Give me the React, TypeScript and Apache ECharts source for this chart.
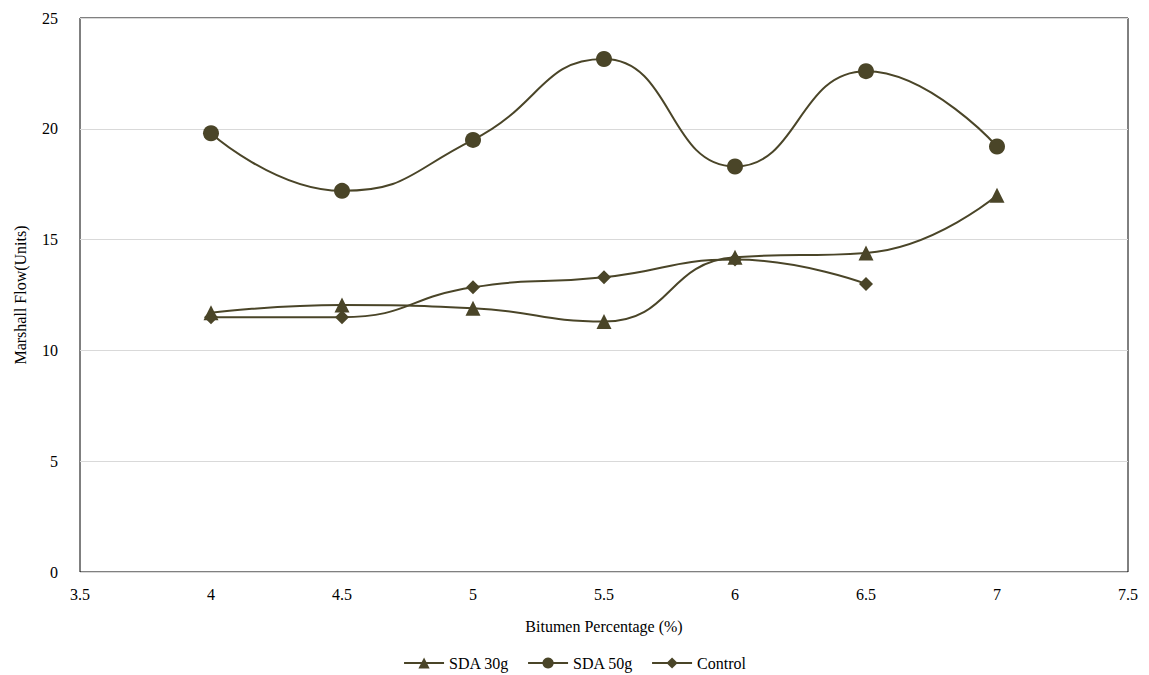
import { useEffect, useRef } from 'react';
import * as echarts from 'echarts';

const bitumen = [4, 4.5, 5, 5.5, 6, 6.5, 7];
const sda30 = [11.7, 12.05, 11.9, 11.3, 14.2, 14.4, 17.0];
const sda50 = [19.8, 17.2, 19.5, 23.15, 18.3, 22.6, 19.2];
const control = [11.5, 11.5, 12.85, 13.3, 14.1, 13.0];

const COLOR = '#4a4528';
const FONT = '"Liberation Serif", "Times New Roman", serif';

const pairs = (ys: number[]) => ys.map((y, i) => [bitumen[i], y]);

export default function App() {
  const el = useRef<HTMLDivElement>(null);

  useEffect(() => {
    if (!el.current) return;
    const chart = echarts.init(el.current, undefined, { renderer: 'svg' });
    const series = (name: string, symbol: string, size: number, ys: number[]) => ({
      name,
      type: 'line',
      smooth: 0.5,
      symbol,
      symbolSize: size,
      data: pairs(ys),
      lineStyle: { color: COLOR, width: 2 },
      itemStyle: { color: COLOR },
    });
    chart.setOption({
      animation: false,
      textStyle: { fontFamily: FONT },
      grid: {
        left: 72, right: 13, top: 10, bottom: 103,
        outerBoundsMode: 'none',
        show: true, borderColor: '#000', borderWidth: 1,
      },
      xAxis: {
        type: 'value',
        min: 3.5,
        max: 7.5,
        interval: 0.5,
        name: 'Bitumen Percentage (%)',
        nameLocation: 'middle',
        nameGap: 46,
        nameTextStyle: { color: '#000', fontSize: 16, fontFamily: FONT },
        axisLine: { show: false },
        axisTick: { show: false },
        splitLine: { show: false },
        axisLabel: { color: '#000', fontSize: 16, fontFamily: FONT, margin: 14 },
      },
      yAxis: {
        type: 'value',
        min: 0,
        max: 25,
        interval: 5,
        name: 'Marshall Flow(Units)',
        nameLocation: 'middle',
        nameGap: 52,
        nameTextStyle: { color: '#000', fontSize: 16, fontFamily: FONT },
        axisLine: { show: false },
        axisTick: { show: false },
        splitLine: { lineStyle: { color: '#d9d9d9' } },
        axisLabel: { color: '#000', fontSize: 16, fontFamily: FONT, margin: 22 },
      },
      legend: {
        top: 642,
        left: 'center',
        itemWidth: 40,
        itemHeight: 14,
        itemGap: 18,
        textStyle: { color: '#000', fontSize: 16, fontFamily: FONT },
        data: ['SDA 30g', 'SDA 50g', 'Control'],
      },
      series: [
        series('SDA 30g', 'triangle', 15, sda30),
        series('SDA 50g', 'circle', 16, sda50),
        series('Control', 'diamond', 14, control),
      ],
    });
    return () => chart.dispose();
  }, []);

  return <div ref={el} style={{ width: 1133, height: 667 }} />;
}
